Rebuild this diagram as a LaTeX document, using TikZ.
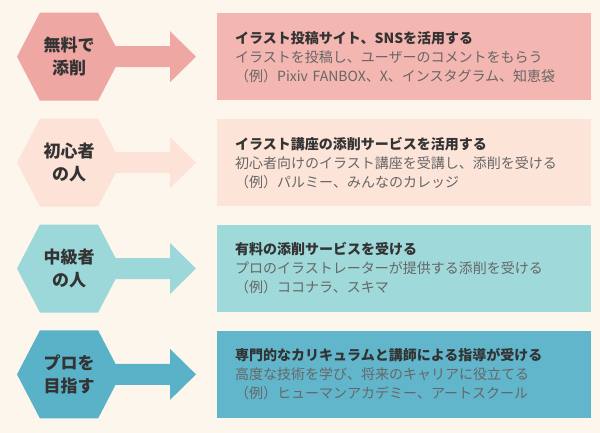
\documentclass[tikz,border=0pt]{standalone}
\usepackage{fontspec}
\setmainfont{Noto Sans CJK JP}
\definecolor{bgcream}{HTML}{FDF6EC}
\definecolor{ink}{HTML}{333333}
\definecolor{bodygray}{HTML}{666666}
\definecolor{hexpink}{HTML}{EEA7A2}
\definecolor{boxpink}{HTML}{F4B6B0}
\definecolor{hexpeach}{HTML}{FCE2D7}
\definecolor{boxpeach}{HTML}{FDE4D9}
\definecolor{hexteal}{HTML}{9CD7D9}
\definecolor{boxteal}{HTML}{9FD9DA}
\definecolor{hexblue}{HTML}{5AB2C8}
\definecolor{boxblue}{HTML}{62B6CB}
\usetikzlibrary{shapes.symbols, positioning}

\begin{document}
\begin{tikzpicture}[
      x=1pt, y=-1pt,
      node distance=18.5pt,
      infobox/.style={rectangle, minimum width=374pt, minimum height=87pt,
                      text width=338pt, inner xsep=18pt, align=left,
                      font=\fontsize{14}{19}\selectfont, text=bodygray},
      hexa/.style={signal, signal to=west and east, signal pointer angle=125,
                   minimum width=104pt, minimum height=88pt, inner sep=0pt,
                   align=center, font=\fontsize{17}{23}\selectfont\bfseries, text=ink},
    ]
      % Background
      \fill[bgcream] (0,0) rectangle (600,433);
      \useasboundingbox (0,0) rectangle (600,433);

      % Boxes
      \node[infobox, fill=boxpink, anchor=north west] (b1) at (217,13)
        {\textcolor{ink}{\bfseries イラスト投稿サイト、SNSを活用する}\\
         イラストを投稿し、ユーザーのコメントをもらう\\
         （例）Pixiv FANBOX、X、インスタグラム、知恵袋};
      \node[infobox, fill=boxpeach, below=of b1] (b2)
        {\textcolor{ink}{\bfseries イラスト講座の添削サービスを活用する}\\
         初心者向けのイラスト講座を受講し、添削を受ける\\
         （例）パルミー、みんなのカレッジ};
      \node[infobox, fill=boxteal, below=of b2] (b3)
        {\textcolor{ink}{\bfseries 有料の添削サービスを受ける}\\
         プロのイラストレーターが提供する添削を受ける\\
         （例）ココナラ、スキマ};
      \node[infobox, fill=boxblue, below=of b3] (b4)
        {\textcolor{ink}{\bfseries 専門的なカリキュラムと講師による指導が受ける}\\
         高度な技術を学び、将来のキャリアに役立てる\\
         （例）ヒューマンアカデミー、アートスクール};

      % Hexagons
      \node[hexa, fill=hexpink] (h1) at ([xshift=-148pt]b1.west) {無料で\\添削};
      \node[hexa, fill=hexpeach] (h2) at ([xshift=-148pt]b2.west) {初心者\\の人};
      \node[hexa, fill=hexteal] (h3) at ([xshift=-148pt]b3.west) {中級者\\の人};
      \node[hexa, fill=hexblue] (h4) at ([xshift=-148pt]b4.west) {プロを\\目指す};

      % Block arrows
      \foreach \i/\col in {1/hexpink, 2/hexpeach, 3/hexteal, 4/hexblue}
        \fill[\col] ([xshift=-12pt, yshift=10.5pt]h\i.east)
          -- ([xshift=-47pt, yshift=10.5pt]b\i.west)
          -- ([xshift=-47pt, yshift=25.5pt]b\i.west)
          -- ([xshift=-21pt]b\i.west)
          -- ([xshift=-47pt, yshift=-25.5pt]b\i.west)
          -- ([xshift=-47pt, yshift=-10.5pt]b\i.west)
          -- ([xshift=-12pt, yshift=-10.5pt]h\i.east) -- cycle;
    \end{tikzpicture}
\end{document}
